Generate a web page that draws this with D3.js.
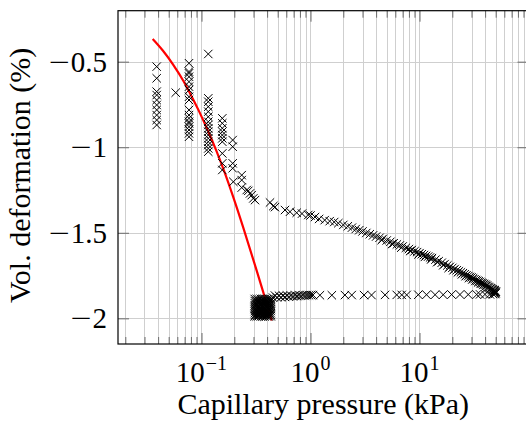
<!DOCTYPE html>
<html>
<head>
<meta charset="utf-8">
<script src="https://cdn.jsdelivr.net/npm/d3@7"></script>
<style>
  body { margin: 0; background: #fff; }
  svg { display: block; }
</style>
</head>
<body>
<script>
// fitted curve (red)
const fitP = [0.03566, 0.04434, 0.05510, 0.06808, 0.07842, 0.09486, 0.1159, 0.1373, 0.1608, 0.1957, 0.2417, 0.3209, 0.3690, 0.4406];
const fitV = [-0.367, -0.436, -0.518, -0.611, -0.684, -0.789, -0.911, -1.023, -1.137, -1.292, -1.470, -1.721, -1.848, -2.013];

// measured points, low suction part
const scatP = [
  0.0388, 0.0388, 0.0388, 0.0388, 0.0388, 0.0388, 0.0388, 0.0388, 0.0388, 0.0388,
  0.058,
  0.0768, 0.0768, 0.0768, 0.0768, 0.0768, 0.0768, 0.0768, 0.0768, 0.0768,
  0.0768, 0.0768, 0.0768, 0.0768, 0.0768, 0.0768, 0.0768, 0.0768, 0.0768,
  0.1154,
  0.1154, 0.1154, 0.1154, 0.1154, 0.1154, 0.1154, 0.1154, 0.1154,
  0.1154, 0.1154, 0.1154, 0.1154, 0.1154, 0.1154, 0.1154,
  0.1552, 0.1552, 0.1552, 0.1552, 0.1552, 0.1552, 0.1552, 0.1552, 0.1552, 0.1552,
  0.1932, 0.1932, 0.1932, 0.1932, 0.196,
  0.2339, 0.2339, 0.2339, 0.260, 0.2687, 0.2786, 0.2888, 0.2987, 0.3097,
  0.4249, 0.4557, 0.4723, 0.5834, 0.6486, 0.7468, 0.836, 0.9546
];
const scatV = [
  -0.529, -0.597, -0.675, -0.695, -0.724, -0.753, -0.782, -0.812, -0.841, -0.870,
  -0.681,
  -0.509, -0.558, -0.568, -0.588, -0.617, -0.646, -0.666, -0.705, -0.724,
  -0.782, -0.812, -0.831, -0.851, -0.861, -0.880, -0.899, -0.919, -0.939,
  -0.455,
  -0.714, -0.734, -0.763, -0.792, -0.822, -0.851, -0.870, -0.890,
  -0.909, -0.929, -0.948, -0.968, -0.987, -1.007, -1.026,
  -0.831, -0.860, -0.889, -0.909, -0.929, -0.948, -0.968, -1.036, -1.094, -1.133,
  -0.958, -0.997, -1.094, -1.123, -1.202,
  -1.163, -1.192, -1.236, -1.250, -1.255, -1.270, -1.280, -1.299, -1.309,
  -1.323, -1.344, -1.350, -1.367, -1.377, -1.383, -1.388, -1.396
];

// upper branch up to 50 kPa
const upperP = [1.0, 1.1, 1.2, 1.35, 1.5, 1.65, 1.8, 2.0, 2.2, 2.4, 2.6, 2.8, 3.0, 3.25, 3.5, 3.75,
  4.0, 4.3, 4.6, 5.0, 5.4, 5.8, 6.2, 6.6, 7.0, 7.5, 8.0, 8.5, 9.0, 9.5, 10, 10.5, 11, 11.5, 12, 12.5, 13,
  14, 15, 16, 17, 18, 19, 20, 21, 22, 23, 24, 25, 26, 27, 28, 29, 30, 31, 32, 33, 34, 35, 36, 37, 38,
  39, 40, 41, 42, 43, 44, 45, 46, 47, 48, 49];
const upperV = [-1.399, -1.408, -1.419, -1.426, -1.432, -1.437, -1.444, -1.454, -1.462, -1.470, -1.478, -1.485,
  -1.492, -1.501, -1.508, -1.515, -1.522, -1.529, -1.536, -1.545, -1.553, -1.561, -1.568, -1.574, -1.580,
  -1.588, -1.595, -1.601, -1.608, -1.613, -1.619, -1.625, -1.630, -1.635, -1.639, -1.644, -1.648,
  -1.657, -1.666, -1.675, -1.683, -1.691, -1.699, -1.705, -1.712, -1.719, -1.725, -1.731, -1.736, -1.742,
  -1.748, -1.753, -1.758, -1.761, -1.766, -1.771, -1.776, -1.780, -1.784, -1.788, -1.792, -1.796, -1.799,
  -1.803, -1.807, -1.811, -1.816, -1.821, -1.825, -1.828, -1.831, -1.834, -1.836];

// second, slightly offset set of readings along the upper branch
const upper2P = [4.5, 5.6, 6.8, 8.2, 9.8, 11.2, 12.8, 14.5, 16.5, 18.5, 20.5, 22.5, 24.5, 26.5, 28.5,
  30.5, 32.5, 34.5, 36.5, 38.5, 40.5, 42.5, 44.5, 46.5, 48.5];
const upper2V = [-1.543, -1.566, -1.587, -1.607, -1.627, -1.641, -1.656, -1.672, -1.690, -1.706, -1.719,
  -1.731, -1.743, -1.754, -1.765, -1.773, -1.782, -1.790, -1.798, -1.805, -1.812, -1.820, -1.829, -1.836, -1.842];

// end cluster near 50 kPa
const endP = [48.5, 49.5, 50.0, 49.0, 50.3];
const endV = [-1.848, -1.843, -1.852, -1.858, -1.845];

// lower branch, back down
const lowerP = [1.22, 1.57, 2.07, 2.39, 3.10, 3.63, 4.83, 6.18, 6.87, 7.63, 9.75, 11.6, 13.9, 16.5, 19.7,
  23.5, 28.0, 33.5, 35.9, 39.9, 44.3, 47.2, 49.3];
const lowerV = [-1.865, -1.865, -1.864, -1.864, -1.864, -1.864, -1.863, -1.863, -1.863, -1.863, -1.862, -1.862,
  -1.862, -1.862, -1.861, -1.861, -1.861, -1.861, -1.860, -1.860, -1.860, -1.858, -1.855];

// dense band between the block and 1 kPa
const bandP = [0.453, 0.472, 0.493, 0.514, 0.536, 0.559, 0.583, 0.609, 0.635, 0.662, 0.691, 0.721, 0.752,
  0.784, 0.818, 0.853, 0.890, 0.929, 0.969, 1.011, 1.054];
const bandV = [-1.879, -1.867, -1.878, -1.868, -1.877, -1.868, -1.875, -1.867, -1.874, -1.867, -1.872, -1.866,
  -1.870, -1.866, -1.868, -1.865, -1.866, -1.865, -1.865, -1.864, -1.864];

// dense block around 0.3-0.43 kPa, one list per pressure
const blockP = [0.308, 0.321, 0.335, 0.350, 0.365, 0.381, 0.397, 0.414, 0.432];
const blockV = [
  [-1.887, -1.899, -1.911, -1.923, -1.934, -1.946, -1.958, -1.970, -1.981, -1.989],
  [-1.887, -1.900, -1.912, -1.922, -1.935, -1.947, -1.957, -1.969, -1.980, -1.989],
  [-1.888, -1.898, -1.910, -1.924, -1.933, -1.945, -1.959, -1.971, -1.982, -1.988],
  [-1.886, -1.899, -1.913, -1.922, -1.936, -1.946, -1.957, -1.970, -1.979, -1.989],
  [-1.887, -1.901, -1.911, -1.923, -1.934, -1.948, -1.958, -1.969, -1.981, -1.988],
  [-1.887, -1.898, -1.912, -1.924, -1.935, -1.946, -1.956, -1.971, -1.980, -1.989],
  [-1.888, -1.900, -1.910, -1.922, -1.933, -1.947, -1.958, -1.970, -1.982, -1.988],
  [-1.886, -1.899, -1.911, -1.923, -1.936, -1.945, -1.959, -1.969, -1.981, -1.989],
  [-1.887, -1.900, -1.912, -1.922, -1.934, -1.946, -1.957, -1.970, -1.980, -1.988]
];

const xMajor = [0.1, 1, 10];
const xExp = ['−1', '0', '1'];
const yTicks = [-0.5, -1, -1.5, -2];
const yLabels = ['0.5', '1', '1.5', '2'];

const W = 526, H = 425;
const plotL = 118, plotR = 528.5, plotT = 10.7, plotB = 344;
const serif = '"Liberation Serif", "DejaVu Serif", serif';

const x = d3.scaleLog().domain([0.01714, 100]).range([plotL, plotR]);
const y = d3.scaleLinear().domain([-2.15, -0.202]).range([plotB, plotT]);

const svg = d3.select('body').append('svg')
  .attr('width', W)
  .attr('height', H)
  .attr('font-family', serif);

const allX = x.ticks();
const xMinor = allX.filter(d => !xMajor.some(m => Math.abs(m - d) < 1e-9) && d < 100);

// grid
svg.append('g')
  .selectAll('line')
  .data(allX)
  .join('line')
  .attr('x1', d => Math.round(x(d)) + 0.5)
  .attr('x2', d => Math.round(x(d)) + 0.5)
  .attr('y1', plotT)
  .attr('y2', plotB)
  .attr('stroke', '#cfcfcf')
  .attr('stroke-width', 1);

svg.append('g')
  .selectAll('line')
  .data(yTicks)
  .join('line')
  .attr('x1', plotL)
  .attr('x2', plotR)
  .attr('y1', d => Math.round(y(d)) + 0.5)
  .attr('y2', d => Math.round(y(d)) + 0.5)
  .attr('stroke', '#cfcfcf')
  .attr('stroke-width', 1);

// ticks, pointing inside
function tickStyle(g) {
  g.select('.domain').remove();
  g.selectAll('line').attr('stroke', '#6a6a6a');
}
svg.append('g').attr('transform', `translate(0,${plotB})`)
  .call(d3.axisBottom(x).tickValues(xMinor).tickSize(-7).tickFormat(''))
  .call(tickStyle);
svg.append('g').attr('transform', `translate(0,${plotB})`)
  .call(d3.axisBottom(x).tickValues(xMajor).tickSize(-11).tickFormat(''))
  .call(tickStyle);
svg.append('g').attr('transform', `translate(0,${plotT})`)
  .call(d3.axisTop(x).tickValues(xMinor).tickSize(-7).tickFormat(''))
  .call(tickStyle);
svg.append('g').attr('transform', `translate(0,${plotT})`)
  .call(d3.axisTop(x).tickValues(xMajor).tickSize(-11).tickFormat(''))
  .call(tickStyle);
svg.append('g').attr('transform', `translate(${plotL},0)`)
  .call(d3.axisLeft(y).tickValues(yTicks).tickSize(-11).tickFormat(''))
  .call(tickStyle);
svg.append('g').attr('transform', `translate(${plotR},0)`)
  .call(d3.axisRight(y).tickValues(yTicks).tickSize(-11).tickFormat(''))
  .call(tickStyle);

// fitted curve
const line = d3.line()
  .x(d => x(d[0]))
  .y(d => y(d[1]))
  .curve(d3.curveMonotoneX);

svg.append('path')
  .datum(d3.zip(fitP, fitV))
  .attr('d', line)
  .attr('fill', 'none')
  .attr('stroke', '#ff0000')
  .attr('stroke-width', 2.2);

// cross markers
const points = [].concat(
  d3.zip(scatP, scatV),
  d3.zip(upperP, upperV),
  d3.zip(upper2P, upper2V),
  d3.zip(endP, endV),
  d3.zip(lowerP, lowerV),
  d3.zip(bandP, bandV),
  ...blockP.map((p, i) => blockV[i].map(v => [p, v]))
);

const s = 4.2;
svg.append('g')
  .selectAll('path')
  .data(points)
  .join('path')
  .attr('transform', d => `translate(${x(d[0])},${y(d[1])})`)
  .attr('d', `M${-s},${-s}L${s},${s}M${-s},${s}L${s},${-s}`)
  .attr('fill', 'none')
  .attr('stroke', '#000')
  .attr('stroke-width', 1);

// frame
svg.append('rect')
  .attr('x', plotL)
  .attr('y', plotT)
  .attr('width', plotR - plotL)
  .attr('height', plotB - plotT)
  .attr('fill', 'none')
  .attr('stroke', '#000')
  .attr('stroke-width', 1.2);

// tick labels
const xl = svg.append('g')
  .selectAll('text')
  .data(xMajor)
  .join('text')
  .attr('x', d => x(d))
  .attr('y', 382)
  .attr('text-anchor', 'middle')
  .attr('font-family', serif)
  .attr('font-size', 29);
xl.append('tspan').text('10');
xl.append('tspan')
  .attr('dy', -12)
  .attr('dx', 1)
  .attr('font-size', 20)
  .text((d, i) => xExp[i]);

const yl = svg.append('g')
  .selectAll('text')
  .data(yTicks)
  .join('text')
  .attr('x', 107)
  .attr('y', d => y(d) + 10)
  .attr('text-anchor', 'end')
  .attr('font-family', serif)
  .attr('font-size', 29);
yl.append('tspan')
  .attr('textLength', 21)
  .attr('lengthAdjust', 'spacingAndGlyphs')
  .text('−');
yl.append('tspan').attr('dx', 1).text((d, i) => yLabels[i]);

// axis labels
svg.append('text')
  .attr('x', (plotL + plotR) / 2)
  .attr('y', 414)
  .attr('text-anchor', 'middle')
  .attr('font-family', serif)
  .attr('font-size', 30)
  .text('Capillary pressure (kPa)');

svg.append('text')
  .attr('transform', `translate(30,${(plotT + plotB) / 2 - 2}) rotate(-90)`)
  .attr('text-anchor', 'middle')
  .attr('font-family', serif)
  .attr('font-size', 30)
  .text('Vol. deformation (%)');
</script>
</body>
</html>
